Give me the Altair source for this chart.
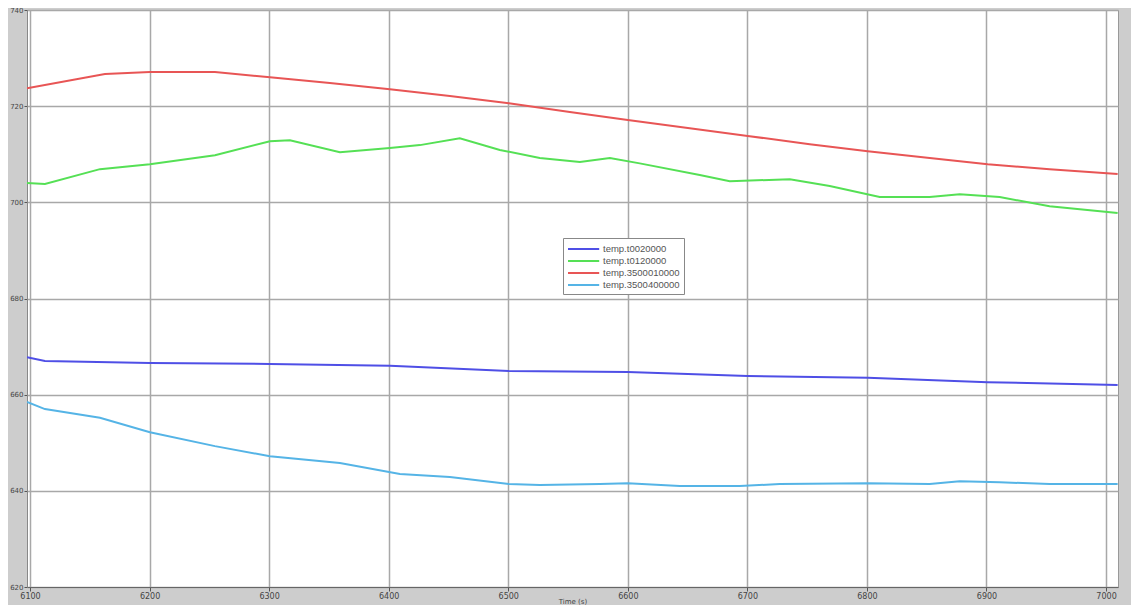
import altair as alt
import pandas as pd

series_names = ["temp.t0020000", "temp.t0120000", "temp.3500010000", "temp.3500400000"]
series_colors = ["#4f4fe6", "#55e055", "#e85555", "#55b4e6"]

blue_t = [6097.5, 6112.5, 6200.3, 6300.7, 6401.0, 6500.5, 6600.0, 6700.3, 6800.7, 6901.0, 7009.7]
blue_v = [667.8, 667.0, 666.6, 666.4, 666.0, 664.9, 664.7, 663.9, 663.5, 662.6, 662.0]

green_t = [6097.5, 6112.5, 6158.5, 6200.3, 6254.7, 6300.7, 6317.4, 6359.2, 6401.0, 6426.1, 6459.5,
           6493.0, 6526.4, 6559.9, 6585.0, 6610.0, 6660.2, 6685.3, 6735.5, 6768.9, 6810.7, 6852.5,
           6877.6, 6911.0, 6952.8, 7009.7]
green_v = [704.0, 703.8, 706.9, 707.9, 709.8, 712.7, 712.9, 710.4, 711.3, 711.9, 713.3,
           710.9, 709.2, 708.4, 709.2, 708.1, 705.7, 704.4, 704.8, 703.4, 701.1, 701.1,
           701.7, 701.1, 699.2, 697.8]

red_t = [6097.5, 6162.7, 6200.3, 6254.7, 6300.7, 6350.8, 6401.0, 6451.2, 6500.5, 6551.5, 6600.0,
         6651.8, 6700.3, 6752.2, 6800.7, 6852.5, 6901.0, 6952.8, 7009.7]
red_v = [723.7, 726.7, 727.1, 727.1, 726.0, 724.8, 723.5, 722.1, 720.6, 718.8, 717.1,
         715.4, 713.8, 712.1, 710.6, 709.2, 707.9, 706.9, 705.9]

cyan_t = [6097.5, 6112.5, 6158.5, 6200.3, 6254.7, 6300.7, 6359.2, 6409.4, 6451.2, 6500.5, 6526.4,
          6576.6, 6600.0, 6643.5, 6693.6, 6727.0, 6800.7, 6852.5, 6877.6, 6911.0, 6952.8, 7009.7]
cyan_v = [658.5, 657.0, 655.2, 652.2, 649.3, 647.2, 645.8, 643.5, 642.9, 641.4, 641.2,
          641.4, 641.6, 641.0, 641.0, 641.4, 641.6, 641.4, 642.0, 641.8, 641.4, 641.4]

x_ticks = [6100, 6200, 6300, 6400, 6500, 6600, 6700, 6800, 6900, 7000]
y_ticks = [620, 640, 660, 680, 700, 720, 740]

rows = []
for name, ts, vs in zip(series_names, [blue_t, green_t, red_t, cyan_t], [blue_v, green_v, red_v, cyan_v]):
    for i, (t, v) in enumerate(zip(ts, vs)):
        rows.append({"series": name, "t": t, "v": v, "order": i})
df = pd.DataFrame(rows)

chart = alt.Chart(df).mark_line(strokeWidth=2, clip=True).encode(
    x=alt.X("t:Q", title="Time (s)",
            scale=alt.Scale(domain=[6097.5, 7010], nice=False, zero=False),
            axis=alt.Axis(values=x_ticks, format="d", labelFontSize=8, titleFontSize=7,
                          titleFontWeight="normal",
                          labelColor="#444", titleColor="#444", tickColor="#555",
                          domainColor="#666", gridColor="#a8a8a8", gridWidth=1.5,
                          tickSize=4, labelPadding=1, titleY=16, titleBaseline="alphabetic")),
    y=alt.Y("v:Q", title=None,
            scale=alt.Scale(domain=[620, 740], nice=False, zero=False),
            axis=alt.Axis(values=y_ticks, format="d", labelFontSize=7, labelColor="#444",
                          tickColor="#555", domainColor="#888", gridColor="#a8a8a8",
                          gridWidth=1.5, tickSize=3, labelPadding=1)),
    color=alt.Color("series:N",
                    scale=alt.Scale(domain=series_names, range=series_colors),
                    sort=series_names,
                    legend=alt.Legend(title=None, orient="none", legendX=536, legendY=228,
                                      symbolType="M-1,0H4.2", symbolSize=144, symbolStrokeWidth=2,
                                      labelOffset=22, labelFontSize=9.5, labelColor="#555",
                                      fillColor="white", strokeColor="#888", padding=4,
                                      rowPadding=0, labelLimit=200)),
    order="order:Q",
).properties(
    width=1091, height=577,
    background="#cdcdcd",
    padding={"left": 19, "top": 2, "right": 13, "bottom": 18},
    autosize=alt.AutoSizeParams(type="none"),
).configure_view(fill="white", stroke="#999").configure_axis(labelFont="DejaVu Sans", titleFont="DejaVu Sans")

chart.save("out.html", embed_options={"renderer": "svg", "actions": False})
